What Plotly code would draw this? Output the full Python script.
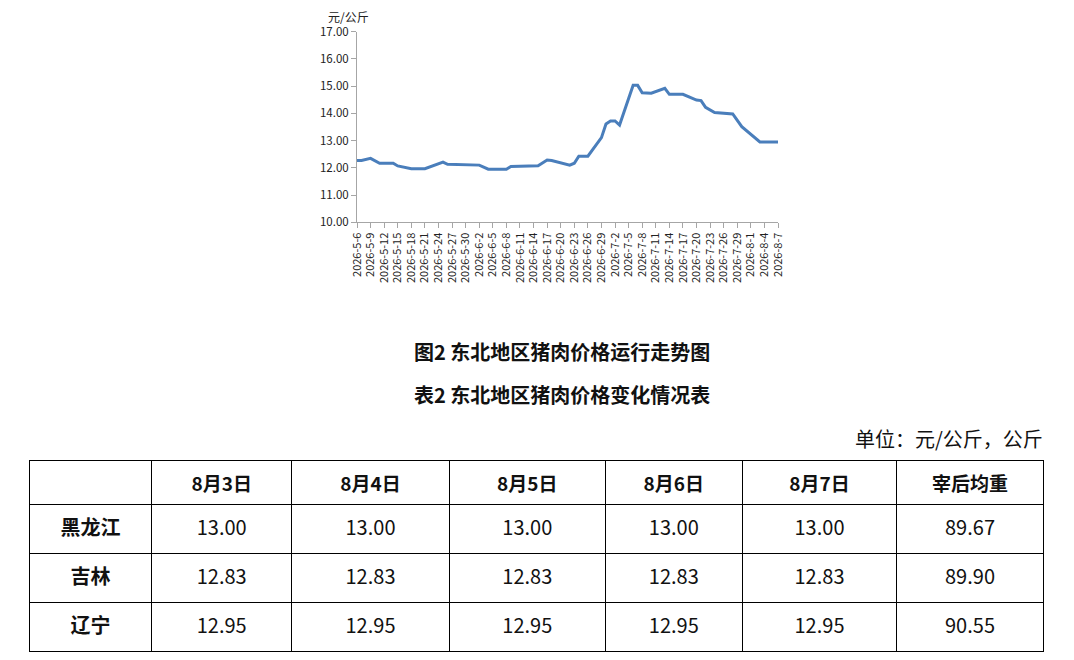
import plotly.graph_objects as go

# price curve (corner points)
dates = ["2026-05-06", "2026-05-07", "2026-05-09", "2026-05-11", "2026-05-14",
         "2026-05-15", "2026-05-18", "2026-05-21", "2026-05-25", "2026-05-26",
         "2026-06-02", "2026-06-04", "2026-06-08", "2026-06-09", "2026-06-15",
         "2026-06-17", "2026-06-18", "2026-06-22", "2026-06-23", "2026-06-24",
         "2026-06-26", "2026-06-29", "2026-06-30", "2026-07-01", "2026-07-02",
         "2026-07-03", "2026-07-06", "2026-07-07", "2026-07-08", "2026-07-10",
         "2026-07-13", "2026-07-14", "2026-07-17", "2026-07-20", "2026-07-21",
         "2026-07-22", "2026-07-24", "2026-07-28", "2026-07-30", "2026-08-03",
         "2026-08-07"]
prices = [12.27, 12.27, 12.35, 12.17, 12.17,
          12.07, 11.97, 11.97, 12.21, 12.13,
          12.10, 11.95, 11.95, 12.05, 12.08,
          12.29, 12.27, 12.10, 12.17, 12.43,
          12.43, 13.11, 13.61, 13.72, 13.72,
          13.57, 15.03, 15.03, 14.76, 14.74,
          14.92, 14.70, 14.70, 14.49, 14.47,
          14.22, 14.03, 13.98, 13.51, 12.95,
          12.95]

# table
header = ["", "8月3日", "8月4日", "8月5日", "8月6日", "8月7日", "宰后均重"]
provinces = ["黑龙江", "吉林", "辽宁"]
aug3 = ["13.00", "12.83", "12.95"]
aug4 = ["13.00", "12.83", "12.95"]
aug5 = ["13.00", "12.83", "12.95"]
aug6 = ["13.00", "12.83", "12.95"]
aug7 = ["13.00", "12.83", "12.95"]
weight = ["89.67", "89.90", "90.55"]

# the page body has an 8px margin, so the figure is a bit smaller than the window
PAD = 8
W, H = 1074 - PAD, 660 - PAD
font = "Noto Sans CJK SC"


def px(x):
    return (x - PAD) / W


def py(y):
    return 1 - (y - PAD) / H


def span(v):
    # same text path for every cell so they all sit at the same height
    return "<span>%s</span>" % v


fig = go.Figure()

fig.add_trace(go.Scatter(x=dates, y=prices, mode="lines",
                         line=dict(color="#4a7ebb", width=3),
                         showlegend=False, hoverinfo="x+y"))

fig.add_trace(go.Table(
    domain=dict(x=[px(29.3), px(1043.3)], y=[0, py(460.7)]),
    columnwidth=[122.4, 140, 157.6, 156, 137, 154.4, 146.6],
    header=dict(values=["<b>%s</b>" % h for h in header],
                height=43.6, align="center",
                line=dict(color="black", width=1),
                fill=dict(color="white"),
                font=dict(family=font, size=19, color="#111")),
    cells=dict(values=[["<b>%s</b>" % p for p in provinces],
                       [span(v) for v in aug3], [span(v) for v in aug4],
                       [span(v) for v in aug5], [span(v) for v in aug6],
                       [span(v) for v in aug7], [span(v) for v in weight]],
               height=49, align="center",
               line=dict(color="black", width=1),
               fill=dict(color="white"),
               font=dict(family=font, size=20, color="#111")),
))

fig.update_layout(
    width=W, height=H,
    margin=dict(l=0, r=0, t=0, b=0),
    paper_bgcolor="white", plot_bgcolor="white",
    font=dict(family=font, color="#222"),
    xaxis=dict(domain=[px(357), px(778)], type="date", automargin=False,
               range=["2026-05-06", "2026-08-07"],
               tick0="2026-05-06", dtick=3 * 86400000,
               tickformat="%Y-%-m-%-d", tickangle=-90,
               tickfont=dict(family=font, size=11, color="#222"),
               showgrid=False, zeroline=False,
               showline=True, linecolor="#a6a6a6", linewidth=1,
               ticks="outside", ticklen=5, tickcolor="#a6a6a6"),
    yaxis=dict(domain=[py(222.3), py(31.7)], automargin=False,
               range=[10, 17], dtick=1, tickformat=".2f",
               tickfont=dict(family=font, size=11.5, color="#222"),
               showgrid=False, zeroline=False,
               showline=True, linecolor="#a6a6a6", linewidth=1,
               ticks="outside", ticklen=5, tickcolor="#a6a6a6"),
)

fig.add_annotation(text="元/公斤", xref="paper", yref="paper",
                   x=px(327), y=py(16.5), yanchor="middle", borderpad=0,
                   showarrow=False,
                   font=dict(family=font, size=12, color="#222"))
fig.add_annotation(text="<b>图2 东北地区猪肉价格运行走势图</b>", xref="paper", yref="paper",
                   x=px(562), y=py(352), yanchor="middle", showarrow=False,
                   font=dict(family=font, size=20, color="#111"))
fig.add_annotation(text="<b>表2 东北地区猪肉价格变化情况表</b>", xref="paper", yref="paper",
                   x=px(562), y=py(394), yanchor="middle", showarrow=False,
                   font=dict(family=font, size=20, color="#111"))
fig.add_annotation(text="单位：元/公斤，公斤", xref="paper", yref="paper",
                   x=px(1045), y=py(438), xanchor="right", yanchor="middle",
                   showarrow=False,
                   font=dict(family=font, size=20, color="#111"))

fig.write_html("out.html")
